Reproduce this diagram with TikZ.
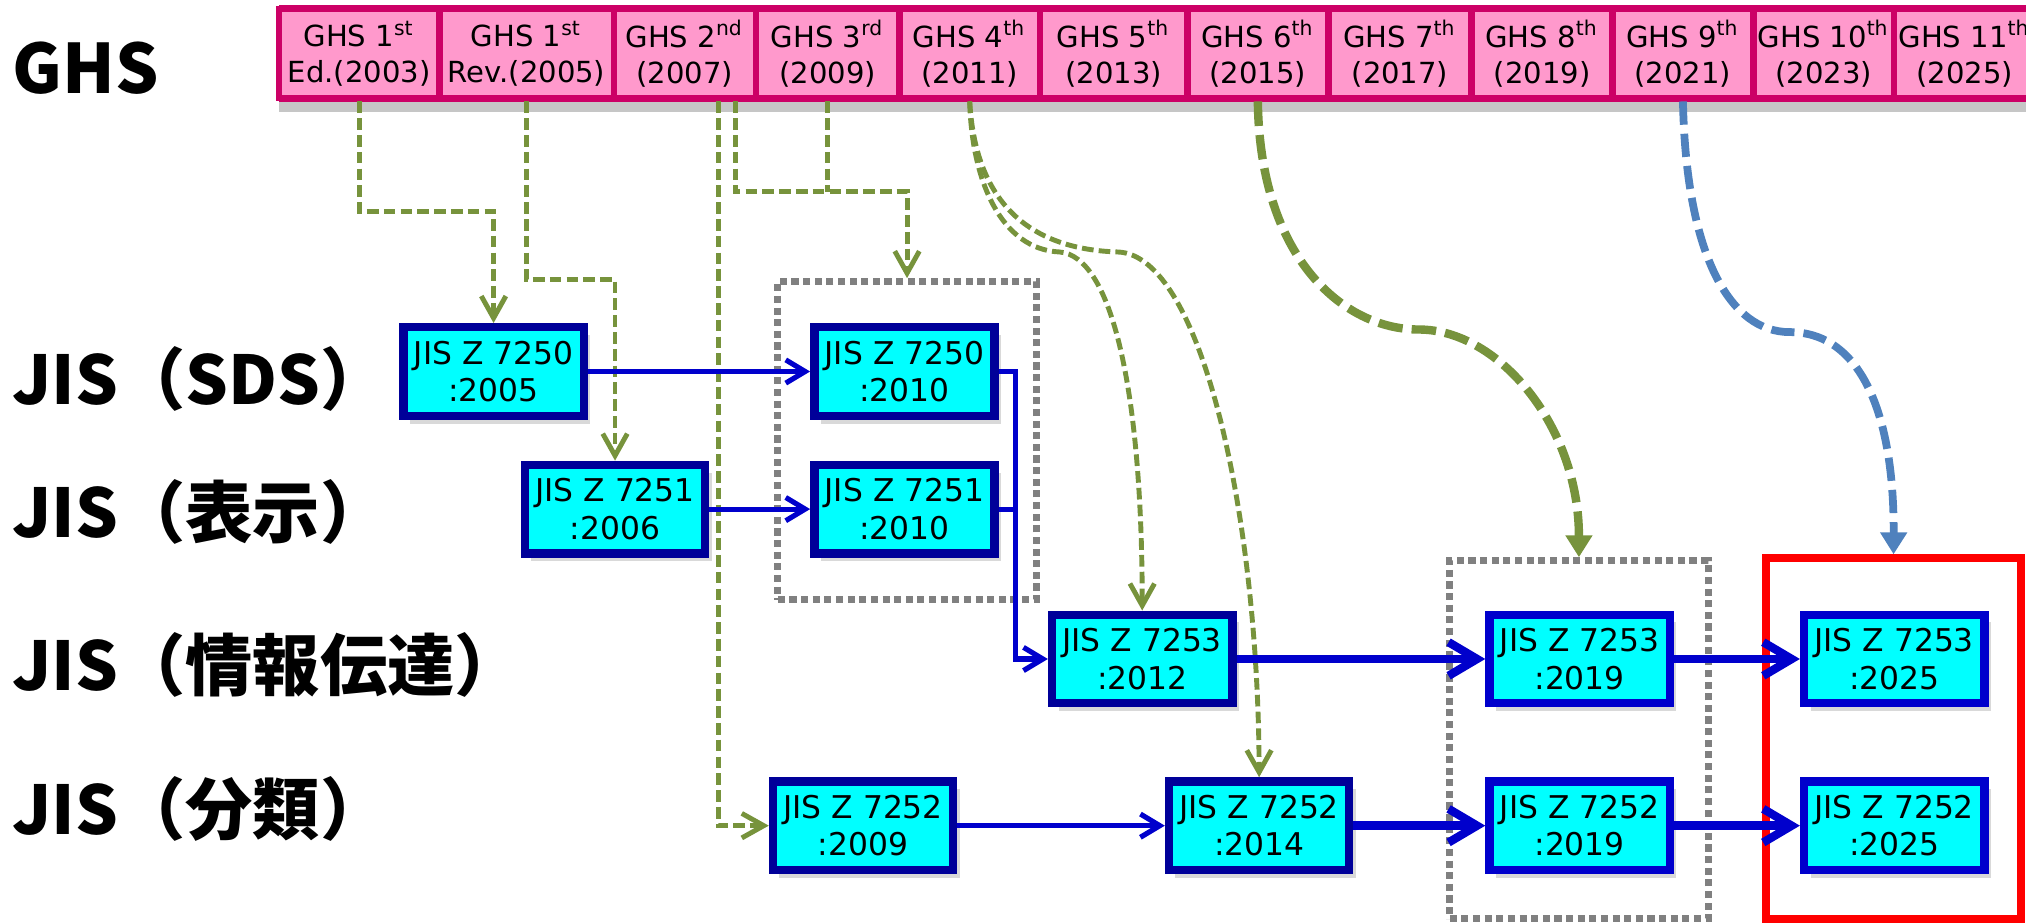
\documentclass[tikz,border=0pt]{standalone}
\usepackage{fontspec}
\setmainfont{DejaVu Sans}
\newfontfamily\jpfont{Noto Sans CJK JP}
\usetikzlibrary{arrows.meta,shadows}

\definecolor{ghspink}{HTML}{FF99CC}
\definecolor{ghsmagenta}{HTML}{CC0066}
\definecolor{jiscyan}{HTML}{00FFFF}
\definecolor{jisnavy}{HTML}{000099}
\definecolor{jisblue}{HTML}{0000CC}
\definecolor{linkgreen}{HTML}{77933C}
\definecolor{linksteel}{HTML}{4F81BD}
\definecolor{groupgray}{HTML}{808080}

\tikzset{
  ghscell/.style={draw=ghsmagenta, fill=ghspink, line width=0.5mm, minimum height=6.9mm,
    inner sep=0pt, align=center, font=\fontsize{6.4pt}{7.9pt}\selectfont},
  jisbox/.style={draw=jisnavy, fill=jiscyan, line width=0.65mm, minimum width=13.95mm,
    minimum height=6.85mm, inner sep=0pt, align=center, font=\fontsize{6.9pt}{8.3pt}\selectfont,
    drop shadow={shadow xshift=0.5mm, shadow yshift=-0.6mm, opacity=0.3}},
  jisnew/.style={jisbox, draw=jisblue},
  grouping/.style={draw=groupgray, line width=0.55mm, dash pattern=on 0.55mm off 0.35mm, inner sep=0pt},
  rowlabel/.style={anchor=base west, inner sep=0pt, font=\jpfont\bfseries\fontsize{14.8pt}{16pt}\selectfont},
  greenlink/.style={draw=linkgreen, line width=0.38mm, dash pattern=on 0.9mm off 0.4mm,
    -{Straight Barb[length=1.7mm,width=1.9mm]}},
  greenbold/.style={draw=linkgreen, line width=0.65mm, dash pattern=on 1.9mm off 0.7mm,
    -{Triangle[length=1.7mm,width=2mm]}},
  steellink/.style={draw=linksteel, line width=0.6mm, dash pattern=on 1.8mm off 0.7mm,
    -{Triangle[length=1.7mm,width=2mm]}},
  bluelink/.style={draw=jisblue, line width=0.4mm, -{Straight Barb[length=1.5mm,width=1.8mm]}},
  blueflow/.style={draw=jisblue, line width=0.65mm, -{Straight Barb[length=2.2mm,width=2.6mm]}},
}

\begin{document}
\begin{tikzpicture}[x=0.1mm, y=-0.1mm]
    \useasboundingbox (0,0) rectangle (1568,714);
    \clip (0,0) rectangle (1568,714);

    % GHS editions
    \fill[ghsmagenta, drop shadow={shadow xshift=0mm, shadow yshift=-0.8mm, opacity=0.45}] (216,4) rectangle (1590,79);
    \node[ghscell, minimum width=12.4mm] (h1) at (278,41.5) {GHS 1\textsuperscript{st}\\Ed.(2003)};
    \node[ghscell, minimum width=13.5mm] (h2) at (407.5,41.5) {GHS 1\textsuperscript{st}\\Rev.(2005)};
    \node[ghscell, minimum width=11mm] (h3) at (530,41.5) {GHS 2\textsuperscript{nd}\\(2007)};
    \node[ghscell, minimum width=11.1mm] (h4) at (640.5,41.5) {GHS 3\textsuperscript{rd}\\(2009)};
    \node[ghscell, minimum width=10.9mm] (h5) at (750.5,41.5) {GHS 4\textsuperscript{th}\\(2011)};
    \node[ghscell, minimum width=11.4mm] (h6) at (862,41.5) {GHS 5\textsuperscript{th}\\(2013)};
    \node[ghscell, minimum width=10.9mm] (h7) at (973.5,41.5) {GHS 6\textsuperscript{th}\\(2015)};
    \node[ghscell, minimum width=11.1mm] (h8) at (1083.5,41.5) {GHS 7\textsuperscript{th}\\(2017)};
    \node[ghscell, minimum width=10.9mm] (h9) at (1193.5,41.5) {GHS 8\textsuperscript{th}\\(2019)};
    \node[ghscell, minimum width=10.9mm] (h10) at (1302.5,41.5) {GHS 9\textsuperscript{th}\\(2021)};
    \node[ghscell, minimum width=10.9mm] (h11) at (1411.5,41.5) {GHS 10\textsuperscript{th}\\(2023)};
    \node[ghscell, minimum width=10.9mm] (h12) at (1520.5,41.5) {GHS 11\textsuperscript{th}\\(2025)};

    % Row labels
    \node[rowlabel, font=\jpfont\bfseries\fontsize{15pt}{17pt}\selectfont] (lghs) at (9,72) {GHS};
    \node[rowlabel] (lsds) at (9,313) {JIS（SDS）};
    \node[rowlabel] (lhyoji) at (9,416) {JIS（表示）};
    \node[rowlabel] (ljoho) at (9,534) {JIS（情報伝達）};
    \node[rowlabel] (lbunrui) at (9,646) {JIS（分類）};

    % Groups
    \node[grouping, minimum width=20mm, minimum height=24.6mm] (grp10) at (702,341) {};
    \node[grouping, minimum width=20mm, minimum height=27.7mm] (grp19) at (1222,572.5) {};
    \node[draw=red, line width=0.6mm, inner sep=0pt, minimum width=19.7mm, minimum height=27.9mm] (next25) at (1465.5,571.5) {};

    % JIS standards
    \node[jisbox] (sds05) at (382,287.5) {JIS Z 7250\\:2005};
    \node[jisbox] (hyo06) at (476,394) {JIS Z 7251\\:2006};
    \node[jisbox] (sds10) at (700,287.5) {JIS Z 7250\\:2010};
    \node[jisbox] (hyo10) at (700,394) {JIS Z 7251\\:2010};
    \node[jisbox] (com12) at (884,510) {JIS Z 7253\\:2012};
    \node[jisbox] (cls09) at (668,639) {JIS Z 7252\\:2009};
    \node[jisbox] (cls14) at (974.5,639) {JIS Z 7252\\:2014};
    \node[jisnew] (com19) at (1222.5,510) {JIS Z 7253\\:2019};
    \node[jisnew] (cls19) at (1222.5,639) {JIS Z 7252\\:2019};
    \node[jisnew] (com25) at (1466,510) {JIS Z 7253\\:2025};
    \node[jisnew] (cls25) at (1466,639) {JIS Z 7252\\:2025};

    % GHS -> JIS
    \draw[greenlink] (h1.south) -- ++(0,85) -| (sds05.north);
    \draw[greenlink] (h2.south) -- ++(0,138) -| (hyo06.north);
    \draw[greenlink] ([xshift=2.6mm]h3.south) |- (cls09.west);
    \draw[greenlink] ([xshift=3.9mm]h3.south) -- ++(0,70) -| (grp10.north);
    \draw[greenlink, -] (h4.south) -- ++(0,70);

    \coordinate (w12) at (820,195);
    \coordinate (w14) at (865,195);
    \coordinate (w19) at (1098,255);
    \coordinate (w25) at (1385,257);
    \draw[greenlink] (h5.south) .. controls (752,140) and (775,193) .. (w12) .. controls (860,198) and (884,300) .. (com12.north);
    \draw[greenlink] (h5.south) .. controls (755,160) and (800,193) .. (w14) .. controls (930,197) and (974,400) .. (cls14.north);
    \draw[greenbold] (h7.south) .. controls (975,200) and (1040,255) .. (w19) .. controls (1160,255) and (1222,330) .. (grp19.north);
    \draw[steellink] (h10.south) .. controls (1305,200) and (1340,257) .. (w25) .. controls (1440,257) and (1466,320) .. (next25.north);

    % Revisions
    \coordinate (merge) at (786,287.5);
    \draw[bluelink] (sds05.east) -- (sds10.west);
    \draw[bluelink] (hyo06.east) -- (hyo10.west);
    \draw[bluelink] (sds10.east) -- (merge) |- (com12.west);
    \draw[bluelink, -] (hyo10.east) -- (hyo10.east -| merge);
    \draw[bluelink] (cls09.east) -- (cls14.west);
    \draw[blueflow] (com12.east) -- (com19.west);
    \draw[blueflow] (cls14.east) -- (cls19.west);
    \draw[blueflow] (com19.east) -- (com25.west);
    \draw[blueflow] (cls19.east) -- (cls25.west);
\end{tikzpicture}
\end{document}
